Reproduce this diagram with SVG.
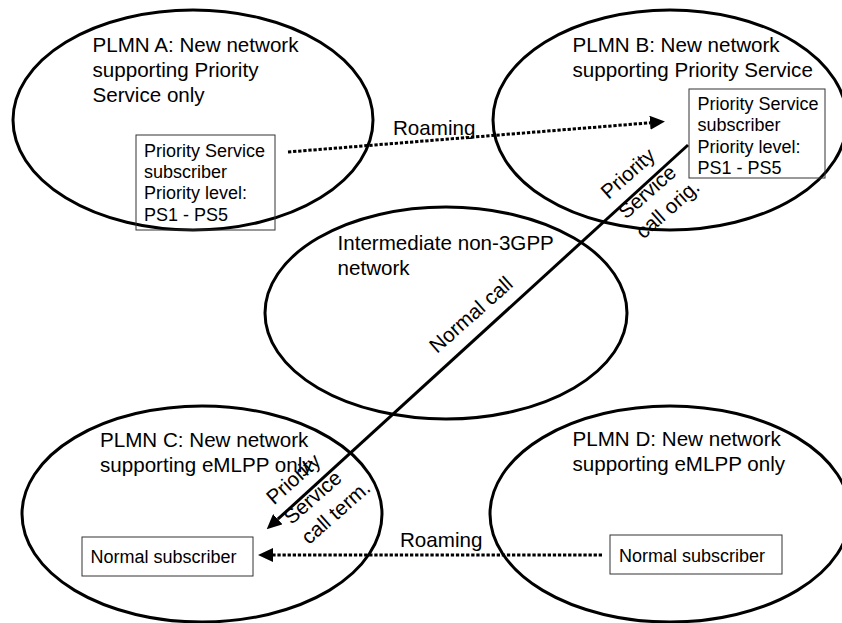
<svg xmlns="http://www.w3.org/2000/svg" width="842" height="623" viewBox="0 0 842 623">
<defs>
<style>
.net{fill:none;stroke:#000;stroke-width:3}
.box{fill:none;stroke:#333;stroke-width:1}
.h{font-family:"Liberation Sans",Arial,sans-serif;font-size:20.6px;fill:#000}
.b{font-family:"Liberation Sans",Arial,sans-serif;font-size:18px;fill:#000}
.dot{fill:none;stroke:#000;stroke-width:3;stroke-dasharray:3.3 1.8}
.solid{fill:none;stroke:#000;stroke-width:3}
</style>
<marker id="arr" viewBox="0 0 15 14" refX="0" refY="7" markerWidth="15" markerHeight="14" markerUnits="userSpaceOnUse" orient="auto">
<path d="M0,0 L15,7 L0,14 z" fill="#000"/>
</marker>
</defs>
<rect width="842" height="623" fill="#fff"/>
<g id="plmnA">
<ellipse class="net" cx="193" cy="120" rx="180" ry="110"/>
<text class="h"><tspan x="92.5" y="52">PLMN A: New network</tspan><tspan x="92.5" y="77">supporting Priority</tspan><tspan x="92.5" y="102">Service only</tspan></text>
</g>
<g id="subA">
<rect class="box" x="136" y="135" width="139" height="95"/>
<text class="b"><tspan x="144" y="156.5">Priority Service</tspan><tspan x="144" y="178">subscriber</tspan><tspan x="144" y="199">Priority level:</tspan><tspan x="144" y="220.5">PS1 - PS5</tspan></text>
</g>
<g id="plmnB">
<ellipse class="net" cx="670" cy="120" rx="177" ry="110"/>
<text class="h"><tspan x="572.5" y="52">PLMN B: New network</tspan><tspan x="572.5" y="77">supporting Priority Service</tspan></text>
</g>
<g id="subB">
<rect class="box" x="689" y="89" width="136" height="89"/>
<text class="b"><tspan x="697.5" y="109.5">Priority Service</tspan><tspan x="697.5" y="131">subscriber</tspan><tspan x="697.5" y="152.5">Priority level:</tspan><tspan x="697.5" y="174">PS1 - PS5</tspan></text>
</g>
<g id="intermediate">
<ellipse class="net" cx="446" cy="313" rx="181" ry="106"/>
<text class="h"><tspan x="337.5" y="250">Intermediate non-3GPP</tspan><tspan x="337.5" y="275">network</tspan></text>
</g>
<g id="plmnC">
<ellipse class="net" cx="202" cy="514" rx="180" ry="108"/>
<text class="h"><tspan x="100" y="446.5">PLMN C: New network</tspan><tspan x="100" y="471.5">supporting eMLPP only</tspan></text>
</g>
<g id="subC">
<rect class="box" x="82" y="537" width="171" height="39"/>
<text class="b" x="90.5" y="563">Normal subscriber</text>
</g>
<g id="plmnD">
<ellipse class="net" cx="670" cy="514" rx="180" ry="108"/>
<text class="h"><tspan x="572.5" y="445.5">PLMN D: New network</tspan><tspan x="572.5" y="470.5">supporting eMLPP only</tspan></text>
</g>
<g id="subD">
<rect class="box" x="610" y="535" width="172" height="39"/>
<text class="b" x="619" y="561.5">Normal subscriber</text>
</g>
<g id="connectors">
<path class="dot" d="M288,152 L650,122.8" marker-end="url(#arr)"/>
<text class="h" x="393" y="135">Roaming</text>
<path class="dot" d="M602,555 L273,555" marker-end="url(#arr)"/>
<text class="h" x="400" y="547">Roaming</text>
<path class="solid" d="M688,145 L277.8,519.2" marker-end="url(#arr)"/>
<text class="h" transform="translate(437,354) rotate(-41.5)">Normal call</text>
<text class="h" transform="translate(608.5,200) rotate(-41.5)"><tspan x="0" y="0">Priority</tspan><tspan x="0" y="26.5">Service</tspan><tspan x="0" y="53">call orig.</tspan></text>
<text class="h" transform="translate(274,505.5) rotate(-41.5)"><tspan x="0" y="0">Priority</tspan><tspan x="0" y="26.5">Service</tspan><tspan x="0" y="53">call term.</tspan></text>
</g>
</svg>
